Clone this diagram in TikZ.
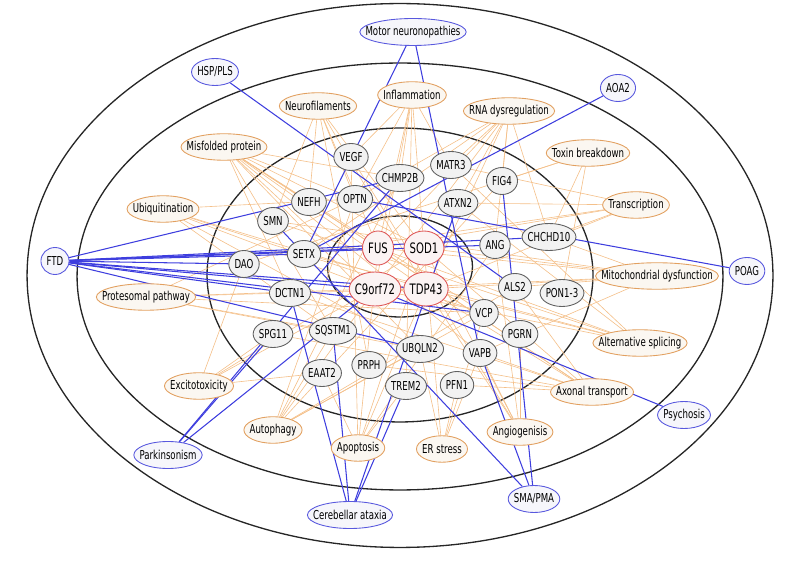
\documentclass[tikz,border=0pt]{standalone}
\usepackage{fontspec}
\setmainfont{DejaVu Sans}[FakeStretch=0.7]
\usetikzlibrary{shapes.geometric, backgrounds}
\definecolor{link blue}{RGB}{62,62,222}
\definecolor{link orange}{RGB}{244,192,138}
\colorlet{gene edge}{black!62}
\colorlet{gene area}{black!5}
\definecolor{core edge}{RGB}{222,86,86}
\definecolor{core area}{RGB}{251,243,243}
\definecolor{path edge}{RGB}{226,160,96}
\definecolor{path area}{RGB}{251,247,241}
\definecolor{dis edge}{RGB}{88,88,222}
\definecolor{dis area}{RGB}{246,246,251}
\newcommand{\lblfont}{\fontsize{7}{8}\selectfont}
\newcommand{\corefont}{\fontsize{8.2}{9}\selectfont}
\newlength{\lblwd}
% the text keeps its width, the ellipse is that wide plus a small margin
\newcommand{\lblkeep}[1]{\sbox0{#1}\global\lblwd=\wd0 \usebox0}
\newcommand{\lblnode}[4]{%
  \node[#1, minimum width=\lblwd+6.5pt] (#2) at (#3) {\lblkeep{#4}};}
\tikzset{
  bubble/.style={ellipse, draw, line width=0.5pt, inner xsep=-40pt, inner ysep=0pt, font=\lblfont},
  gene/.style={bubble, draw=gene edge, fill=gene area, minimum height=0.54cm},
  core/.style={bubble, draw=core edge, fill=core area, minimum height=0.68cm, font=\corefont},
  pathway/.style={bubble, draw=path edge, fill=path area, minimum height=0.53cm},
  disease/.style={bubble, draw=dis edge, fill=dis area, minimum height=0.54cm},
  ring/.style={draw=black!85, line width=0.75pt},
  genelink/.style={draw=link orange, line width=0.35pt},
  dislink/.style={draw=link blue, line width=0.6pt}
}

\begin{document}
\begin{tikzpicture}[x=0.02cm, y=-0.02cm]
    \useasboundingbox (0,0) rectangle (800,573);
    % diseases
    \lblnode{disease}{motor}{413,32}{Motor neuronopathies}
    \lblnode{disease}{hsp}{215,72}{HSP/PLS}
    \lblnode{disease}{aoa}{618,88}{AOA2}
    \lblnode{disease}{ftd}{55,261}{FTD}
    \lblnode{disease}{poag}{747,271}{POAG}
    \lblnode{disease}{psych}{684,415}{Psychosis}
    \lblnode{disease}{parkin}{168,455}{Parkinsonism}
    \lblnode{disease}{cereb}{350,515}{Cerebellar ataxia}
    \lblnode{disease}{smapma}{534,499}{SMA/PMA}
    % pathways
    \lblnode{pathway}{inflam}{412,95}{Inflammation}
    \lblnode{pathway}{neurofil}{318,106}{Neurofilaments}
    \lblnode{pathway}{rnadys}{509,111}{RNA dysregulation}
    \lblnode{pathway}{misfold}{224,147}{Misfolded protein}
    \lblnode{pathway}{toxin}{588,153}{Toxin breakdown}
    \lblnode{pathway}{ubiq}{163,209}{Ubiquitination}
    \lblnode{pathway}{transcr}{636,205}{Transcription}
    \lblnode{pathway}{mito}{657,276}{Mitochondrial dysfunction}
    \lblnode{pathway}{proteo}{146,297}{Protesomal pathway}
    \lblnode{pathway}{altspl}{640,343}{Alternative splicing}
    \lblnode{pathway}{excito}{199,386}{Excitotoxicity}
    \lblnode{pathway}{axonal}{592,392}{Axonal transport}
    \lblnode{pathway}{autoph}{273,430}{Autophagy}
    \lblnode{pathway}{apopt}{358,448}{Apoptosis}
    \lblnode{pathway}{erstress}{442,449}{ER stress}
    \lblnode{pathway}{angio}{520,432}{Angiogenisis}
    % genes
    \lblnode{gene}{vegf}{351,157}{VEGF}
    \lblnode{gene}{chmp2b}{400,178}{CHMP2B}
    \lblnode{gene}{matr3}{451,165}{MATR3}
    \lblnode{gene}{fig4}{502,181}{FIG4}
    \lblnode{gene}{optn}{355,199}{OPTN}
    \lblnode{gene}{nefh}{309,202}{NEFH}
    \lblnode{gene}{atxn2}{458,203}{ATXN2}
    \lblnode{gene}{smn}{273,221}{SMN}
    \lblnode{gene}{chchd10}{549,237}{CHCHD10}
    \lblnode{gene}{setx}{304,254}{SETX}
    \lblnode{gene}{ang}{495,245}{ANG}
    \lblnode{gene}{dao}{244,264}{DAO}
    \lblnode{gene}{dctn1}{290,293}{DCTN1}
    \lblnode{gene}{als2}{515,287}{ALS2}
    \lblnode{gene}{pon}{562,293}{PON1-3}
    \lblnode{gene}{vcp}{484,313}{VCP}
    \lblnode{gene}{spg11}{273,334}{SPG11}
    \lblnode{gene}{sqstm1}{333,331}{SQSTM1}
    \lblnode{gene}{pgrn}{520,334}{PGRN}
    \lblnode{gene}{ubqln2}{420,349}{UBQLN2}
    \lblnode{gene}{vapb}{480,353}{VAPB}
    \lblnode{gene}{eaat2}{322,373}{EAAT2}
    \lblnode{gene}{prph}{369,365}{PRPH}
    \lblnode{gene}{trem2}{406,386}{TREM2}
    \lblnode{gene}{pfn1}{457,385}{PFN1}
    % core genes
    \lblnode{core}{fus}{378,248}{FUS}
    \lblnode{core}{sod1}{424,248}{SOD1}
    \lblnode{core}{c9orf72}{375,289}{C9orf72}
    \lblnode{core}{tdp43}{426,289}{TDP43}

    \begin{pgfonlayer}{background}
    \draw[ring] (400,275.5) ellipse [x radius=7.46cm, y radius=5.44cm];
    \draw[ring] (400,276.5) ellipse [x radius=6.46cm, y radius=4.27cm];
    \draw[ring] (400,275) ellipse [x radius=3.86cm, y radius=2.94cm];
    \draw[ring] (400,266.5) ellipse [x radius=1.45cm, y radius=1.01cm];
    % pathway links
    \path[genelink] (inflam) edge (vegf) edge (chmp2b) edge (matr3) edge (optn) edge (trem2) edge (sod1) edge (c9orf72) edge (fus);
    \path[genelink] (neurofil) edge (nefh) edge (prph) edge (sod1) edge (tdp43) edge (fus) edge (optn) edge (smn);
    \path[genelink] (rnadys) edge (fus) edge (tdp43) edge (matr3) edge (atxn2) edge (setx) edge (c9orf72) edge (ang) edge (chchd10) edge (fig4) edge (optn);
    \path[genelink] (misfold) edge (sod1) edge (tdp43) edge (fus) edge (optn) edge (ubqln2) edge (vcp) edge (sqstm1) edge (c9orf72) edge (chmp2b) edge (nefh) edge (dctn1) edge (vapb);
    \path[genelink] (toxin) edge (pon) edge (dao) edge (fig4) edge (chchd10);
    \path[genelink] (ubiq) edge (ubqln2) edge (sqstm1) edge (optn) edge (vcp) edge (c9orf72) edge (tdp43);
    \path[genelink] (transcr) edge (fus) edge (tdp43) edge (setx) edge (matr3) edge (chchd10) edge (atxn2);
    \path[genelink] (mito) edge (sod1) edge (chchd10) edge (tdp43) edge (fus) edge (vapb) edge (c9orf72) edge (smn) edge (als2);
    \path[genelink] (proteo) edge (ubqln2) edge (vcp) edge (sqstm1) edge (c9orf72) edge (optn) edge (tdp43);
    \path[genelink] (altspl) edge (fus) edge (tdp43) edge (matr3) edge (atxn2) edge (setx) edge (c9orf72) edge (smn);
    \path[genelink] (excito) edge (eaat2) edge (sod1) edge (dao) edge (c9orf72) edge (spg11);
    \path[genelink] (axonal) edge (dctn1) edge (sod1) edge (pfn1) edge (nefh) edge (prph) edge (spg11) edge (vapb) edge (tdp43) edge (fus) edge (als2);
    \path[genelink] (autoph) edge (sqstm1) edge (optn) edge (vcp) edge (c9orf72) edge (fig4) edge (als2) edge (chmp2b) edge (ubqln2);
    \path[genelink] (apopt) edge (sod1) edge (ang) edge (tdp43) edge (fus) edge (eaat2) edge (vegf) edge (trem2);
    \path[genelink] (erstress) edge (vapb) edge (sod1) edge (vcp) edge (ubqln2) edge (pfn1);
    \path[genelink] (angio) edge (vegf) edge (ang) edge (pgrn) edge (tdp43) edge (sod1) edge (vapb);
    % disease links
    \path[dislink] (ftd) edge (chmp2b) edge (chchd10) edge (ang) edge (fus) edge (setx) edge (dao) edge (tdp43) edge (c9orf72) edge (vcp) edge (dctn1) edge (ubqln2);
    \path[dislink] (motor) edge (setx) edge (vapb);
    \path[dislink] (hsp) edge (als2);
    \path[dislink] (aoa) edge (setx);
    \path[dislink] (poag) edge (optn);
    \path[dislink] (psych) edge (c9orf72);
    \path[dislink] (parkin) edge (chmp2b) edge (spg11) edge (c9orf72);
    \path[dislink] (cereb) edge (dctn1) edge (sqstm1) edge (atxn2) edge (trem2);
    \path[dislink] (smapma) edge (smn) edge (vapb) edge (fig4);
    \end{pgfonlayer}
\end{tikzpicture}
\end{document}
